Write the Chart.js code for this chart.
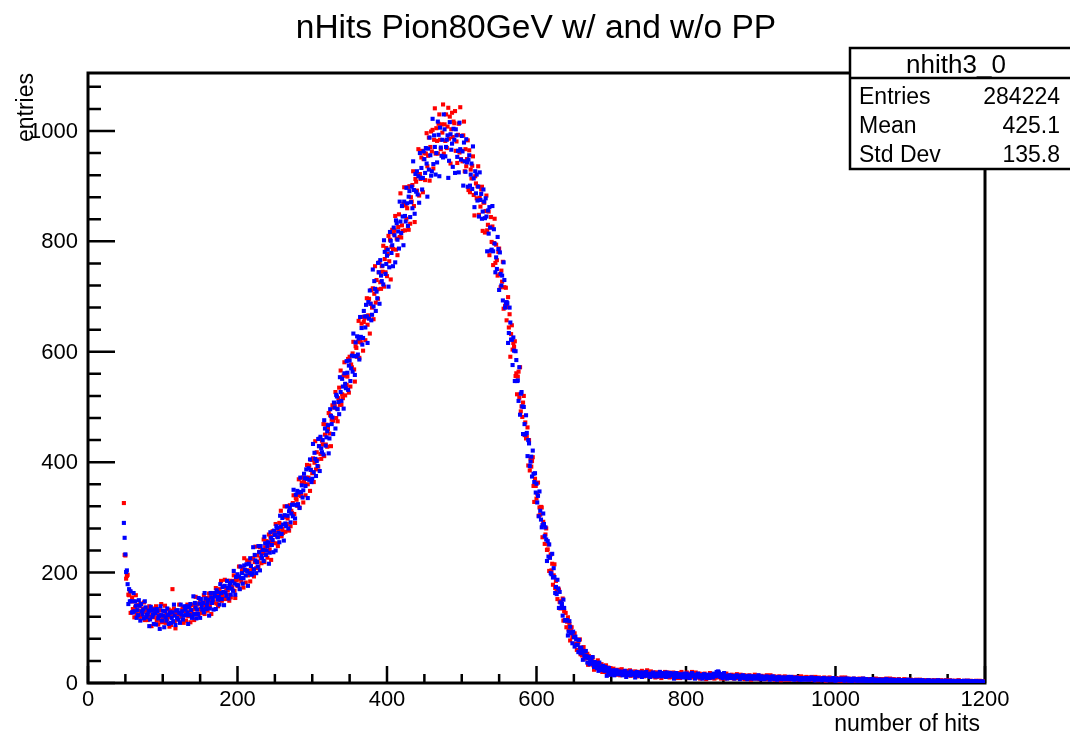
<!DOCTYPE html>
<html>
<head>
<meta charset="utf-8">
<script src="https://cdn.jsdelivr.net/npm/chart.js@4/dist/chart.umd.min.js"></script>
<style>
  html, body { margin: 0; padding: 0; background: #ffffff; }
  #wrap { width: 1070px; height: 740px; }
</style>
</head>
<body>
<div id="wrap"><canvas id="c" width="1070" height="740"></canvas></div>
<script>
// ---------------- data ----------------
const chartTitle = "nHits Pion80GeV w/ and w/o PP";
const xAxisTitle = "number of hits";
const yAxisTitle = "entries";
const binStart = 48;   // first bin (number of hits)
const binWidth = 1;    // bin width

// red series (one line per 10 bins, first line = bins 48-49)
const redCounts = [
  326,232,
  231,189,194,196,160,159,166,127,148,155,
  134,148,119,137,159,125,141,131,120,140,
  144,127,120,135,129,146,114,131,120,136,
  114,128,139,120,133,103,124,135,119,129,
  130,139,113,119,106,124,132,113,143,110,
  118,112,130,140,109,124,115,120,133,102,
  131,105,121,170,128,135,111,99,127,124,
  115,125,142,110,124,120,133,137,109,130,
  132,113,130,142,121,127,139,110,132,141,
  126,142,114,134,156,124,142,133,124,144,
  151,134,127,145,140,159,125,147,135,154,
  131,147,162,140,157,125,150,163,146,158,
  161,172,144,152,139,160,170,150,185,149,
  158,153,175,187,152,171,160,168,185,149,
  185,155,175,172,185,195,167,154,188,186,
  176,189,211,171,189,184,203,208,173,226,
  204,182,204,222,195,204,219,184,212,225,
  206,226,193,219,247,208,231,220,210,237,
  246,226,217,241,235,260,219,246,233,257,
  227,250,269,242,265,223,257,275,254,270,
  273,288,253,265,248,277,290,266,312,266,
  279,272,302,320,274,301,288,298,320,276,
  322,284,312,308,326,340,306,290,335,332,
  321,340,369,318,343,339,363,372,327,364,
  370,340,372,395,360,372,394,348,386,404,
  380,407,364,399,438,387,418,405,392,429,
  443,415,406,439,432,469,411,450,432,468,
  428,460,489,452,485,429,477,503,475,499,
  505,527,480,497,474,516,535,504,566,504,
  523,516,557,581,521,557,540,555,587,526,
  591,537,577,572,597,618,568,546,610,607,
  591,618,656,589,623,617,651,663,602,654,
  661,621,664,697,649,666,696,633,687,712,
  680,715,659,705,755,689,730,713,696,744,
  762,726,714,755,745,792,718,768,744,788,
  737,777,810,764,803,731,790,821,786,814,
  820,846,785,805,775,826,849,808,887,807,
  829,819,868,898,820,865,841,860,898,821,
  900,832,880,872,902,927,864,835,913,908,
  892,922,967,883,922,913,952,964,889,949,
  960,911,959,996,936,955,988,910,971,999,
  963,1002,932,984,1041,959,1005,982,959,1013,
  1030,984,967,1012,997,1048,959,1012,982,1030,
  969,1008,1042,986,1026,941,1003,1033,989,1017,
  1014,1036,964,981,942,993,1013,961,1043,949,
  964,945,992,1017,927,967,936,949,983,893,
  965,889,930,914,937,954,884,847,918,905,
  878,900,936,848,879,863,894,899,819,871,
  870,816,855,883,820,830,854,775,825,844,
  799,827,757,797,841,761,794,766,738,781,
  787,740,717,747,727,763,678,717,683,716,
  657,681,699,644,668,591,632,648,604,616,
  609,619,556,561,523,555,564,517,572,492,
  501,482,508,520,449,472,443,446,463,394,
  440,385,407,392,402,409,357,328,370,357,
  334,343,363,303,318,305,319,318,264,292,
  286,252,269,280,241,242,251,203,227,233,
  204,216,178,195,215,172,185,169,152,171,
  169,147,135,148,138,153,113,130,114,127,
  101,111,119,97,107,77,94,101,83,89,
  86,90,69,71,60,71,74,59,79,52,
  56,50,60,65,44,53,45,47,53,33,
  49,34,41,38,43,46,32,24,38,35,
  30,34,41,25,30,28,33,34,20,29,
  29,20,27,32,21,24,28,15,23,27,
  24,18,22,26,19,20,23,15,21,24,
  18,22,14,19,25,16,21,18,15,20,
  22,17,15,19,18,23,13,19,16,20,
  14,18,21,16,19,12,17,20,16,18,
  19,22,14,16,12,18,20,15,23,14,
  15,14,18,21,12,17,14,16,19,10,
  19,11,16,15,18,20,13,9,17,16,
  12,16,20,11,15,14,18,19,10,16,
  16,11,15,19,13,14,18,9,15,18,
  13,17,9,14,20,11,16,14,11,16,
  16,19,11,13,9,15,17,12,20,10,
  13,11,16,19,10,14,12,13,17,8,
  16,9,13,12,15,17,10,7,14,13,
  11,14,18,9,12,11,15,16,8,13,
  14,10,12,16,11,12,15,8,13,15,
  11,14,8,12,17,9,13,11,9,14,
  13,15,10,11,8,12,14,10,16,9,
  11,9,13,15,8,12,10,11,14,7,
  13,8,11,10,12,14,9,6,12,11,
  9,12,15,8,10,9,13,13,7,11,
  11,13,8,9,7,11,12,9,14,7,
  9,8,12,14,7,10,9,9,12,6,
  11,7,9,9,11,12,7,5,10,9,
  8,10,12,6,9,8,10,11,6,9,
  10,7,9,11,8,9,10,6,9,11,
  8,10,6,8,12,7,9,8,7,10,
  9,11,7,8,6,9,10,7,11,6,
  8,6,10,11,5,8,7,8,10,5,
  9,6,7,8,9,10,6,4,8,8,
  7,8,10,5,7,7,9,9,5,7,
  8,9,5,6,4,7,8,6,10,4,
  6,5,8,10,4,7,6,6,8,3,
  7,4,6,6,7,8,4,3,7,6,
  5,7,8,4,6,5,7,8,3,6,
  6,4,6,7,5,6,7,4,6,7,
  5,7,3,5,8,4,6,5,4,7,
  6,7,4,5,3,6,7,4,8,3,
  5,4,6,8,3,5,4,5,7,2,
  6,3,5,4,5,7,3,2,5,5,
  4,5,7,3,4,4,5,6,2,5,
  5,6,3,4,2,5,5,3,6,2,
  4,3,5,6,2,4,3,4,5,2,
  5,2,4,3,4,5,2,1,4,4,
  3,4,5,2,3,3,4,5,2,3,
  4,5,2,3,2,4,4,3,5,2,
  3,2,4,5,2,3,3,3,4,1,
  4,2,3,3,4,5,2,1,3,3,
  3,3,4,2,3,2,4,4,2,3,
  3,4,2,2,1,3,3,2,4,2,
  2,2,3,4,1,3,2,2,3,1
];

// blue series (same binning)
const blueCounts = [
  290,263,
  233,201,204,179,143,170,148,166,148,128,
  128,163,130,148,140,118,132,123,150,140,
  113,143,130,124,133,117,148,137,119,124,
  124,131,103,115,138,131,120,124,107,133,
  126,106,134,130,117,121,98,139,123,113,
  131,122,101,130,119,113,135,123,107,126,
  128,109,118,128,112,142,122,105,131,118,
  132,115,127,109,142,124,130,115,122,139,
  133,123,139,128,107,137,123,143,132,118,
  120,157,125,145,137,117,133,125,154,144,
  118,152,138,133,145,128,163,153,134,141,
  146,151,122,135,163,155,145,151,133,163,
  157,134,168,165,151,156,142,179,163,152,
  174,165,141,176,164,158,185,172,153,176,
  181,160,171,184,167,203,180,160,192,178,
  197,177,193,170,211,190,199,180,190,213,
  205,195,215,203,176,216,199,226,212,196,
  199,246,206,232,222,199,219,211,248,237,
  204,248,231,226,241,221,265,253,232,240,
  248,255,216,236,273,263,250,259,237,276,
  268,240,284,281,264,272,255,303,283,270,
  299,287,258,304,289,284,320,303,280,311,
  317,291,307,323,302,350,323,298,341,322,
  348,324,345,317,372,346,358,336,349,379,
  371,357,387,370,335,389,368,405,386,364,
  370,433,382,417,406,375,402,393,442,429,
  384,446,425,418,440,414,476,461,430,445,
  456,467,416,443,496,484,469,481,451,508,
  499,461,522,519,496,509,487,554,527,511,
  551,537,497,561,542,534,583,562,531,575,
  584,547,570,593,564,633,592,558,617,592,
  628,595,624,586,663,627,643,613,625,674,
  664,644,685,664,616,690,660,711,687,657,
  667,749,682,728,714,674,709,697,761,744,
  687,766,738,728,756,722,802,781,741,759,
  774,785,718,753,817,801,779,793,755,825,
  811,762,838,833,803,818,787,872,836,815,
  864,845,793,872,846,836,897,869,828,881,
  891,844,871,899,860,945,893,850,922,890,
  927,885,918,870,960,915,933,894,915,963,
  949,924,969,941,881,968,930,988,956,919,
  927,1022,940,992,971,921,960,943,1017,993,
  918,1006,970,955,984,952,1030,1003,954,971,
  984,992,915,946,1016,994,966,977,935,1004,
  984,924,1003,992,953,964,925,1015,967,948,
  991,963,901,979,945,926,985,943,899,948,
  956,901,921,941,895,972,914,862,927,887,
  921,874,899,845,925,875,886,841,854,894,
  872,842,878,845,782,856,814,862,825,783,
  785,864,782,822,796,744,771,750,808,786,
  712,780,741,720,738,693,762,730,680,687,
  690,688,616,634,680,653,622,622,576,626,
  602,547,601,585,547,548,511,572,486,524,
  527,501,451,500,469,450,485,453,411,440,
  434,393,401,410,374,421,379,364,380,345,
  361,327,339,302,347,312,296,282,286,307,
  288,266,282,260,221,257,229,251,227,199,
  197,234,191,208,192,163,174,161,187,171,
  136,165,146,136,143,122,151,136,113,114,
  114,114,86,93,112,102,90,91,72,93,
  83,66,84,79,69,69,56,78,64,54,
  64,56,42,58,50,46,58,49,37,47,
  45,34,38,41,36,47,35,29,38,30,
  36,27,32,22,37,28,29,24,24,31,
  27,22,29,23,13,26,19,27,21,15,
  20,17,23,18,14,22,18,23,20,16,
  17,21,16,20,19,14,18,16,22,19,
  11,19,17,15,18,14,21,19,15,16,
  17,18,10,14,20,18,15,17,13,19,
  17,11,19,18,15,16,13,20,16,14,
  16,15,11,17,15,14,19,16,12,17,
  16,12,15,17,13,20,16,12,18,15,
  17,13,15,11,19,15,16,12,14,18,
  16,14,17,15,8,17,13,18,15,11,
  15,11,13,16,14,10,13,12,17,15,
  10,17,13,12,14,9,15,13,18,15,
  13,14,8,15,13,12,17,14,10,13,
  14,13,8,11,16,14,12,13,9,15,
  13,9,15,14,11,12,10,17,14,12,
  15,20,13,21,19,14,11,16,13,9,
  16,18,12,13,11,8,12,11,14,12,
  9,13,11,10,12,8,12,11,14,12,
  11,12,7,12,11,10,14,12,9,11,
  12,11,7,9,13,12,10,11,8,12,
  11,8,12,11,9,10,8,14,11,10,
  7,12,9,9,10,7,11,9,12,10,
  10,10,6,11,9,9,12,10,7,9,
  10,9,6,8,11,10,9,9,7,10,
  9,7,10,9,8,8,7,11,9,8,
  7,11,7,9,8,6,8,7,10,9,
  9,9,6,9,7,6,8,7,9,8,
  6,9,8,7,8,6,9,7,10,8,
  8,8,5,9,7,7,9,8,6,7,
  8,7,5,6,9,8,7,7,5,8,
  7,5,8,7,6,7,5,9,7,6,
  4,8,6,6,7,5,7,6,8,7,
  6,7,4,8,6,6,8,7,4,6,
  7,6,3,5,8,7,6,6,4,7,
  6,4,7,6,5,5,4,8,6,5,
  4,7,4,6,5,3,5,4,7,6,
  6,6,3,6,4,3,5,4,6,5,
  3,6,5,4,5,3,6,4,7,5,
  5,5,3,6,4,4,6,5,3,5,
  5,4,2,4,6,5,4,4,3,5,
  5,3,5,4,4,4,3,6,4,3,
  2,5,4,4,4,3,4,3,5,4,
  4,4,2,5,3,3,5,4,2,3,
  4,3,2,3,5,4,3,3,2,4,
  4,2,4,3,3,3,2,5,3,3,
  2,4,3,3,3,2,4,3,4,3,
  3,3,2,4,3,2,4,3,2,3,
  3,3,1,3,4,3,3,3,2,3,
  3,2,4,3,2,3,2,4,3,2,
  2,3,2,2,3,2,3,2,3,2,
  2,3,2,2,2,1,3,2,2,2
];

const xMajorTicks = [0, 200, 400, 600, 800, 1000, 1200];
const xTickLabels = ["0", "200", "400", "600", "800", "1000", "1200"];
const yMajorTicks = [0, 200, 400, 600, 800, 1000];
const yTickLabels = ["0", "200", "400", "600", "800", "1000"];
const xMinorStep = 50;
const yMinorStep = 40;
const xRange = [0, 1200];
const yRange = [0, 1105];

const statsName = "nhith3_0";
const statsLabels = ["Entries", "Mean", "Std Dev"];
const statsValues = ["284224", "425.1", "135.8"];

// ---------------- drawing ----------------
const FONT = "'Liberation Sans', Arial, Helvetica, sans-serif";

function toPoints(arr) {
  return arr.map((v, i) => ({ x: binStart + i * binWidth, y: v }));
}

const rootFrame = {
  id: 'rootFrame',
  beforeDatasetsDraw(chart) {
    const ctx = chart.ctx;
    const a = chart.chartArea;
    const xs = chart.scales.x, ys = chart.scales.y;
    ctx.save();
    ctx.strokeStyle = '#000';
    ctx.lineCap = 'butt';
    ctx.lineWidth = 2.5;
    ctx.beginPath();
    for (let v = xRange[0]; v <= xRange[1]; v += xMinorStep) {
      const px = xs.getPixelForValue(v);
      const major = xMajorTicks.includes(v);
      ctx.moveTo(px, a.bottom);
      ctx.lineTo(px, a.bottom - (major ? 17 : 9));
    }
    for (let v = yRange[0]; v <= yRange[1]; v += yMinorStep) {
      const py = ys.getPixelForValue(v);
      const major = yMajorTicks.includes(v);
      ctx.moveTo(a.left, py);
      ctx.lineTo(a.left + (major ? 27 : 13), py);
    }
    ctx.stroke();
    ctx.lineWidth = 3;
    ctx.strokeRect(a.left, a.top, a.right - a.left, a.bottom - a.top);
    ctx.fillStyle = '#000';
    ctx.font = '22px ' + FONT;
    ctx.textAlign = 'center';
    ctx.textBaseline = 'middle';
    xMajorTicks.forEach((v, i) => {
      ctx.fillText(xTickLabels[i], xs.getPixelForValue(v), 700);
    });
    ctx.textAlign = 'right';
    yMajorTicks.forEach((v, i) => {
      ctx.fillText(yTickLabels[i], a.left - 10, ys.getPixelForValue(v) + 1);
    });
    ctx.restore();
  },
  afterDraw(chart) {
    const ctx = chart.ctx;
    ctx.save();
    ctx.fillStyle = '#000';
    ctx.font = '33.5px ' + FONT;
    ctx.textAlign = 'center';
    ctx.textBaseline = 'alphabetic';
    ctx.fillText(chartTitle, 536, 38);
    ctx.font = '23px ' + FONT;
    ctx.textAlign = 'right';
    ctx.fillText(xAxisTitle, 980, 731);
    ctx.save();
    ctx.translate(33, 73);
    ctx.rotate(-Math.PI / 2);
    ctx.textAlign = 'right';
    ctx.fillText(yAxisTitle, 0, 0);
    ctx.restore();
    const bx = 850, by = 48, bw = 240, bh = 121;
    ctx.fillStyle = '#fff';
    ctx.fillRect(bx, by, bw, bh);
    ctx.strokeStyle = '#000';
    ctx.lineWidth = 2.5;
    ctx.strokeRect(bx, by, bw, bh);
    ctx.beginPath();
    ctx.moveTo(bx, 78);
    ctx.lineTo(bx + bw, 78);
    ctx.stroke();
    ctx.fillStyle = '#000';
    ctx.font = '26px ' + FONT;
    ctx.textAlign = 'center';
    ctx.fillText(statsName, 956, 73);
    ctx.font = '23px ' + FONT;
    const rowsY = [104, 133, 162];
    statsLabels.forEach((l, i) => {
      ctx.textAlign = 'left';
      ctx.fillText(l, 859, rowsY[i]);
      ctx.textAlign = 'right';
      ctx.fillText(statsValues[i], 1060, rowsY[i]);
    });
    ctx.restore();
  }
};

new Chart(document.getElementById('c'), {
  type: 'scatter',
  data: {
    datasets: [
      { label: 'w/ PP', data: toPoints(blueCounts), backgroundColor: '#0000ff' },
      { label: 'w/o PP', data: toPoints(redCounts), backgroundColor: '#ff0000' }
    ]
  },
  options: {
    responsive: false,
    animation: false,
    events: [],
    layout: { padding: { left: 88, top: 73, right: 85, bottom: 57 } },
    elements: { point: { pointStyle: 'rect', radius: 2.9, borderWidth: 0, hoverRadius: 2.9 } },
    scales: {
      x: { type: 'linear', min: xRange[0], max: xRange[1], display: false },
      y: { type: 'linear', min: yRange[0], max: yRange[1], display: false }
    },
    plugins: { legend: { display: false }, tooltip: { enabled: false } }
  },
  plugins: [rootFrame]
});
</script>
</body>
</html>
